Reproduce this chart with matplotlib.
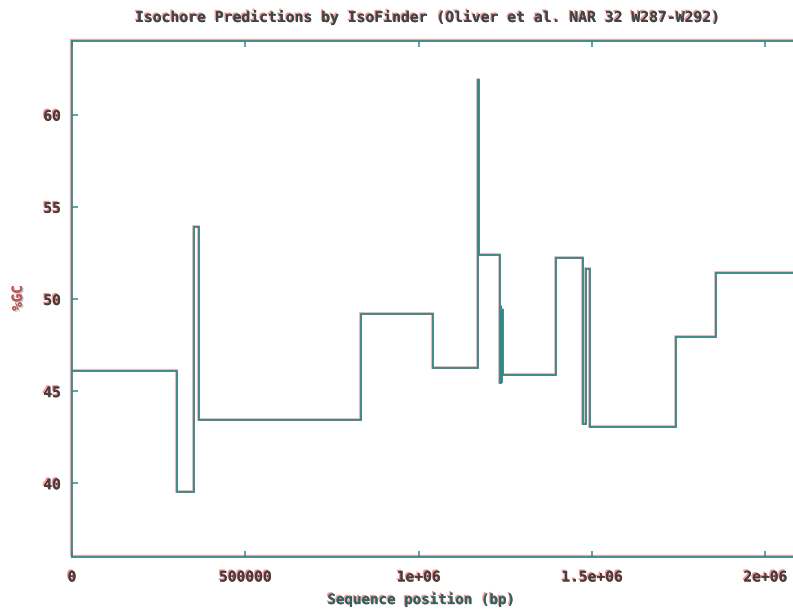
import matplotlib.pyplot as plt
import matplotlib.patheffects as pe
from matplotlib import transforms
from matplotlib.patches import Rectangle

# Isochore boundaries (bp) and mean GC content (%) of each segment
seg_start = [0, 303000, 353000, 366000, 834000, 1042000, 1171000, 1175000,
             1234000, 1235500, 1237000, 1238500, 1240000, 1242000, 1397000,
             1474000, 1482000, 1495000, 1743000, 1859000]
seg_gc = [46.1, 39.55, 53.9, 43.45, 49.2, 46.25, 61.9, 52.4,
          49.7, 45.45, 49.6, 45.5, 49.4, 45.88, 52.25,
          43.2, 51.65, 43.03, 47.92, 51.43]
seq_end = 2100000

xticks = [0, 500000, 1000000, 1500000, 2000000]
xtick_labels = ["0", "500000", "1e+06", "1.5e+06", "2e+06"]
yticks = [40, 45, 50, 55, 60]

teal = "#2f8a8a"
pink = "#f07c7c"
mono = "DejaVu Sans Mono"

fig = plt.figure(figsize=(7.93, 6.09), dpi=100)
ax = fig.add_axes([72 / 793, 1 - 557 / 609, 728 / 793, 516 / 609])

xs = seg_start + [seq_end]
ys = seg_gc + [seg_gc[-1]]

# red fringe drawn slightly up-left, teal line on top
shift = transforms.offset_copy(ax.transData, fig=fig, x=-1, y=1, units="dots")
ax.plot(xs, ys, drawstyle="steps-post", color=pink, lw=1.8, alpha=0.75,
        transform=shift, solid_joinstyle="miter")
ax.plot(xs, ys, drawstyle="steps-post", color=teal, lw=1.3,
        solid_joinstyle="miter")

ax.set_xlim(0, seq_end)
ax.set_ylim(36, 64)

for s in ax.spines.values():
    s.set_color(teal)
    s.set_linewidth(1.3)
frame_shift = transforms.offset_copy(ax.transAxes, fig=fig, x=-1, y=1, units="dots")
ax.add_patch(Rectangle((0, 0), 1, 1, transform=frame_shift, fill=False,
                       edgecolor=pink, lw=1.6, alpha=0.7, clip_on=False, zorder=0))

fringe = [pe.withSimplePatchShadow(offset=(-1, 1), shadow_rgbFace=pink, alpha=0.8),
          pe.Normal()]

ax.set_xticks(xticks)
ax.set_xticklabels(xtick_labels)
ax.set_yticks(yticks)
ax.tick_params(direction="in", length=4, width=1.1, color=teal,
               top=True, right=True, labelsize=10.5, pad=8)
ax.tick_params(axis="x", pad=9)
for lab in ax.get_xticklabels() + ax.get_yticklabels():
    lab.set_fontfamily(mono)
    lab.set_fontweight("bold")
    lab.set_color("#4a3c3c")
    lab.set_path_effects(fringe)

fig.text(428 / 793, 1 - 17 / 609,
         "Isochore Predictions by IsoFinder (Oliver et al. NAR 32 W287-W292)",
         ha="center", va="center", fontsize=10.6, family=mono, weight="bold",
         color="#3a4848", path_effects=fringe)
fig.text(421 / 793, 1 - 600 / 609, "Sequence position (bp)", ha="center",
         va="center", fontsize=10.2, family=mono, weight="bold",
         color="#2f6262", path_effects=fringe)
fig.text(18 / 793, 1 - 298 / 609, "%GC", ha="center", va="center",
         rotation=90, fontsize=10.2, family=mono, weight="bold",
         color="#c85050",
         path_effects=[pe.withSimplePatchShadow(offset=(1, -1), shadow_rgbFace=teal, alpha=0.4),
                       pe.Normal()])

fig.savefig("out.png", dpi=100)
